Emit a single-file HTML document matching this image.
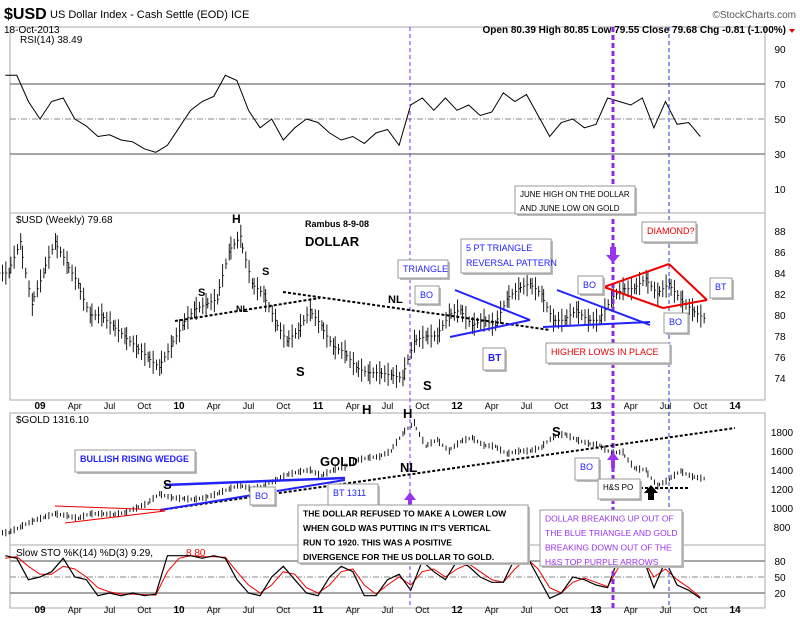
<!DOCTYPE html>
<html><head><meta charset="utf-8"><style>
body{margin:0;background:#fff;font-family:"Liberation Sans",sans-serif}
svg{display:block}
text{font-family:"Liberation Sans",sans-serif}
</style></head><body>
<svg id="c" width="800" height="622" viewBox="0 0 800 622" xmlns="http://www.w3.org/2000/svg"></svg>
<script>
const usdClose=[84,87,81, 84,87,85,83,80,80,79,78,77,76,75,77, 79,80.5,81,81.5,86,87.5,83,82,79.5,77.5,78.5,80.5, 79,77,76.5,75,74.5,74.5,74.3,74,77.5,78,78,80, 80.5,79,79.5,79,81.5,82.5,83,82,79.5,79.5,80.5,79.5, 79.5,81.5,82.5,82.5,83.5,82,83,81.5,80.5,79.7];
const goldClose=[740,800,860, 900,940,920,890,940,940,930,950,1000,1050,1150,1110, 1100,1090,1110,1150,1200,1240,1200,1230,1290,1350,1380,1400, 1340,1400,1430,1500,1530,1540,1600,1780,1900,1650,1720,1600, 1700,1740,1660,1650,1570,1600,1600,1640,1750,1780,1720,1680, 1660,1580,1590,1420,1400,1230,1300,1390,1330,1310];
const rsiVals=[75,75,60, 50,60,62,50,46,40,41,38,37,33,31,35, 45,55,60,63,75,72,55,45,50,38,45,50, 48,42,38,40,36,42,44,35,58,62,55,62, 55,58,52,54,65,60,64,52,40,48,50,45, 47,62,60,58,62,45,60,47,48,40];
const stoK=[90,85,45, 50,60,85,50,45,15,20,15,20,15,18,90, 90,90,85,90,85,45,20,15,50,70,45,20, 15,50,70,60,15,15,45,55,25,80,60,45, 80,70,50,40,40,85,90,50,10,20,50,45, 35,30,90,80,90,30,80,35,25,10];
const stoD=[85,88,70, 55,55,70,65,50,30,22,18,18,17,16,60, 85,90,88,88,87,60,35,20,35,60,55,30, 20,35,60,65,35,18,35,50,35,60,65,50, 65,75,60,45,40,65,85,65,30,20,40,48, 40,32,70,85,85,50,65,45,30,12];
const yearLabels=["09","10","11","12","13","14"];
const monthLabels=["Apr","Jul","Oct"];
const usdTicks=[74,76,78,80,82,84,86,88];
const goldTicks=[800,1000,1200,1400,1600,1800];
const rsiTicks=[10,30,50,70,90];
const stoTicks=[20,50,80];

const svg=document.getElementById('c');
const NS='http://www.w3.org/2000/svg';
function el(tag,attrs,parent){const e=document.createElementNS(NS,tag);for(const k in attrs)e.setAttribute(k,attrs[k]);(parent||svg).appendChild(e);return e;}
function tx(x,y,s,attrs){const e=el('text',Object.assign({x:x,y:y,'font-size':11,fill:'#000'},attrs||{}));e.textContent=s;return e;}

const xT=t=>40+(t-2009)*139;
const xI=i=>xT(2008.75+i/12);
const yRsi=v=>119-(v-50)*1.75;
const yUsd=v=>231+(88-v)*10.5;
const yGold=v=>432+(1800-v)*0.095;
const ySto=v=>577-(v-50)*0.533;
const L=10,R=765;

[[27,213],[213,400],[413,545],[545,608]].forEach((p,k)=>{
 const r=el('rect',{x:L,y:p[0],width:R-L,height:p[1]-p[0],fill:'#fff',stroke:'#aaa','stroke-width':1});
 
 
});

let t=tx(4,19,'$USD',{'font-size':16,'font-weight':'bold'});

t=tx(50,18,'US Dollar Index - Cash Settle (EOD) ICE',{'font-size':11});

t=tx(4,33,'18-Oct-2013',{'font-size':10});

t=tx(796,18,'©StockCharts.com',{'font-size':10,'text-anchor':'end',fill:'#555'});

t=tx(786,33,'Open 80.39  High 80.85  Low 79.55  Close 79.68  Chg -0.81 (-1.00%)',{'font-size':10,'text-anchor':'end','font-weight':'bold'});

el('path',{d:'M789 29 l6 0 l-3 4 z',fill:'#d00'});

rsiTicks.forEach(v=>{const l=tx(780,yRsi(v)+4,String(v),{'font-size':10,'text-anchor':'middle'});});
el('line',{x1:L,x2:R,y1:yRsi(70),y2:yRsi(70),stroke:'#888','stroke-width':1.5});
el('line',{x1:L,x2:R,y1:yRsi(30),y2:yRsi(30),stroke:'#888','stroke-width':1.5});
el('line',{x1:L,x2:R,y1:yRsi(50),y2:yRsi(50),stroke:'#888','stroke-dasharray':'6 2 1 2'});
t=tx(20,43,'RSI(14) 38.49',{'font-size':10,'font-family':'Liberation Mono'});

let d='';rsiVals.forEach((v,i)=>{d+=(i?'L':'M')+xI(i).toFixed(1)+' '+yRsi(v).toFixed(1)});
let p=el('path',{d:d,fill:'none',stroke:'#000','stroke-width':1});


usdTicks.forEach(v=>{const l=tx(780,yUsd(v)+4,String(v),{'font-size':10,'text-anchor':'middle'});});
t=tx(16,223,'$USD (Weekly) 79.68',{'font-size':10,'font-family':'Liberation Mono'});

usdClose.forEach((v,i)=>{
 const prev=i?usdClose[i-1]:v;
 for(let w=0;w<4;w++){
  const x=xI(i)-6+w*3.3, c=prev+(v-prev)*(w+1)/4, h=0.5+((i+w)%3)*0.3;
  const b=el('line',{x1:x,x2:x,y1:yUsd(c+h),y2:yUsd(c-h),stroke:'#000','stroke-width':0.9});
  
  el('line',{x1:x,x2:x+1.5,y1:yUsd(c),y2:yUsd(c),stroke:'#000','stroke-width':0.8});
 }
});

goldTicks.forEach(v=>{const l=tx(782,yGold(v)+4,String(v),{'font-size':10,'text-anchor':'middle'});});
t=tx(16,423,'$GOLD 1316.10',{'font-size':10,'font-family':'Liberation Mono'});

goldClose.forEach((v,i)=>{
 const prev=i?goldClose[i-1]:v;
 for(let w=0;w<4;w++){
  const x=xI(i)-6+w*3.3, c=prev+(v-prev)*(w+1)/4, h=18+((i+w)%3)*10;
  const b=el('line',{x1:x,x2:x,y1:yGold(c+h),y2:yGold(c-h),stroke:'#000','stroke-width':0.9});
  
 }
});

stoTicks.forEach(v=>{const l=tx(780,ySto(v)+4,String(v),{'font-size':10,'text-anchor':'middle'});
 el('line',{x1:L,x2:R,y1:ySto(v),y2:ySto(v),stroke:'#888','stroke-width':v==50?1:1.5,'stroke-dasharray':v==50?'6 2 1 2':'none'});});
t=tx(16,556,'Slow STO %K(14) %D(3) 9.29, ',{'font-size':10,'font-family':'Liberation Mono'});

tx(186,556,'8.80',{'font-size':10,'font-family':'Liberation Mono',fill:'#e00'});
d='';stoD.forEach((v,i)=>{d+=(i?'L':'M')+xI(i).toFixed(1)+' '+ySto(v).toFixed(1)});
p=el('path',{d:d,fill:'none',stroke:'#e00','stroke-width':1});
d='';stoK.forEach((v,i)=>{d+=(i?'L':'M')+xI(i).toFixed(1)+' '+ySto(v).toFixed(1)});
p=el('path',{d:d,fill:'none',stroke:'#000','stroke-width':1.2});

[409,613].forEach(y=>{
 yearLabels.forEach((s,k)=>{const l=tx(xT(2009+k),y,s,{'font-size':10,'font-weight':'bold','text-anchor':'middle'});
  if(k<5)monthLabels.forEach((m,j)=>{const q=tx(xT(2009+k+(j+1)*0.25),y,m,{'font-size':9,'text-anchor':'middle'});});});
});

el('line',{x1:410,x2:410,y1:27,y2:608,stroke:'#8a2be2','stroke-dasharray':'4 3','stroke-width':1});
el('line',{x1:613,x2:613,y1:27,y2:608,stroke:'#8a2be2','stroke-dasharray':'5 3','stroke-width':3});
el('line',{x1:669,x2:669,y1:27,y2:608,stroke:'#2233dd','stroke-dasharray':'4 3','stroke-width':1});

const lines=[
 [175,321,320,298,'#000',2,'3 2'],[283,292,550,330,'#000',2,'3 2'],
 [455,290,530,320,'#22f',2,''],[450,337,530,320,'#22f',2,''],
 [557,290,650,325,'#22f',2,''],[543,327,650,322,'#22f',2,''],
 [604,287,669,264,'#e00',2,''],[669,264,707,300,'#e00',2,''],[604,287,663,308,'#e00',2,''],[663,308,707,300,'#e00',2,''],
 [160,510,735,428,'#000',2,'3 2'],[165,485,345,478,'#22f',2.5,''],[160,510,345,480,'#22f',2,''],
 [55,506,165,510,'#e00',1,''],[65,523,165,511,'#e00',1,''],[640,488,690,488,'#000',2,'3 2']
];
lines.forEach(a=>{const l=el('line',{x1:a[0],y1:a[1],x2:a[2],y2:a[3],stroke:a[4],'stroke-width':a[5],'stroke-dasharray':a[6]});});

el('path',{d:'M610 247 h6 v8 h4 l-7 8 l-7 -8 h4z',fill:'#9933ee'});
el('path',{d:'M410 492 l-6 8 h4 v8 h4 v-8 h4z',fill:'#9933ee'});
el('path',{d:'M613 452 l-6 8 h4 v8 h4 v-8 h4z',fill:'#9933ee'});
el('path',{d:'M651 485 l-7 8 h4 v7 h6 v-7 h4z',fill:'#000'});

function box(x,y,w,h,lines,color,name,fs,bold){
 const g=el('g',{});
 el('rect',{x:x+2,y:y+2,width:w,height:h,fill:'#bbb'},g);
 el('rect',{x:x,y:y,width:w,height:h,fill:'#fff',stroke:'#999'},g);
 lines.forEach((s,k)=>{const q=el('text',{x:x+5,y:y+fs+3+k*(fs+6),'font-size':fs,fill:color,'font-weight':bold?'bold':'normal'},g);q.textContent=s;});
}
box(515,186,120,28,['JUNE HIGH ON THE DOLLAR','AND JUNE LOW ON GOLD'],'#000','june-callout',8,false);
box(398,260,50,18,['TRIANGLE'],'#22f','triangle-callout',9,false);
box(415,286,24,18,['BO'],'#22f','bo-callout-1',9,false);
box(461,239,90,34,['5 PT TRIANGLE','REVERSAL PATTERN'],'#22f','5pt-triangle-callout',9,false);
box(483,348,22,22,['BT'],'#22f','bt-callout-1',10,true);
box(578,276,25,18,['BO'],'#22f','bo-callout-2',9,false);
box(642,222,54,20,['DIAMOND?'],'#e00','diamond-callout',9,false);
box(710,278,22,20,['BT'],'#22f','bt-callout-2',9,false);
box(664,313,24,20,['BO'],'#22f','bo-callout-3',9,false);
box(546,343,124,20,['HIGHER LOWS IN PLACE'],'#e00','higher-lows-callout',9,false);
box(75,450,120,22,['BULLISH RISING WEDGE'],'#22f','wedge-callout',9,true);
box(250,487,25,18,['BO'],'#22f','bo-callout-gold',9,false);
box(328,484,50,22,['BT 1311'],'#22f','bt-1311-callout',9,false);
box(575,458,24,22,['BO'],'#22f','bo-callout-gold-2',9,false);
box(598,479,42,20,['H&S PO'],'#000','hs-po-callout',8,false);
box(298,505,230,58,['THE DOLLAR REFUSED TO MAKE A LOWER LOW','WHEN GOLD WAS PUTTING IN IT\'S VERTICAL','RUN TO 1920. THIS WAS A POSITIVE','DIVERGENCE FOR THE US DOLLAR TO GOLD.'],'#000','divergence-note',8.5,true);
box(540,510,142,56,['DOLLAR BREAKING UP OUT OF','THE BLUE TRIANGLE AND GOLD','BREAKING DOWN OUT OF THE','H&S TOP PURPLE ARROWS'],'#9933ee','purple-arrows-note',8.5,false);

[[305,227,'Rambus  8-9-08',9],[305,246,'DOLLAR',13],[232,223,'H',12],[198,296,'S',11],[262,275,'S',11],[296,376,'S',13],[423,390,'S',13],[236,312,'NL',9],[388,303,'NL',11],[362,414,'H',13],[403,418,'H',13],
 [320,466,'GOLD',13],[163,489,'S',13],[552,436,'S',13],[400,472,'NL',13]].forEach(a=>{
 const q=tx(a[0],a[1],a[2],{'font-size':a[3],'font-weight':'bold'});});
</script>
</body></html>
